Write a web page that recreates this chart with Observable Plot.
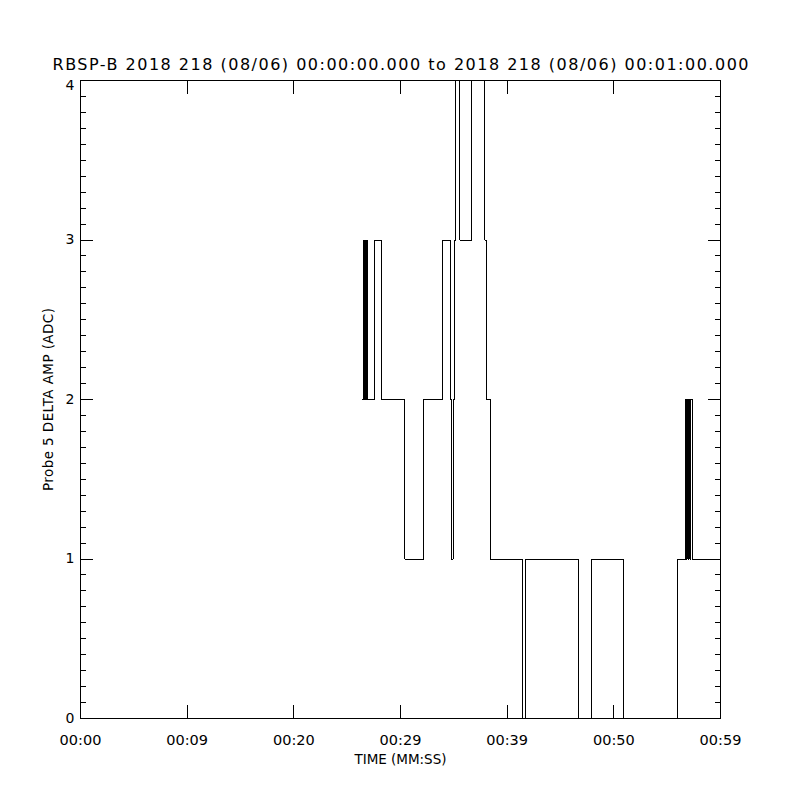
<!DOCTYPE html>
<html>
<head>
<meta charset="utf-8">
<script src="https://cdn.jsdelivr.net/npm/d3@7"></script>
<script src="https://cdn.jsdelivr.net/npm/@observablehq/plot@0.6"></script>
<style>
  html, body { margin: 0; padding: 0; background: #fff; }
  #chart { width: 800px; height: 800px; }
</style>
</head>
<body>
<div id="chart"></div>
<script>
// ---- Text ----
const titleText = "RBSP-B 2018 218 (08/06) 00:00:00.000 to 2018 218 (08/06) 00:01:00.000";
const xLabel = "TIME (MM:SS)";
const yLabel = "Probe 5 DELTA AMP (ADC)";

// ---- Ticks ----
const xTickValues = [0, 10, 20, 30, 40, 50, 60];
const xTickLabels = ["00:00", "00:09", "00:20", "00:29", "00:39", "00:50", "00:59"];
const yTickValues = [0, 1, 2, 3, 4];
const yTickLabels = ["0", "1", "2", "3", "4"];
const yMinorTicks = d3.range(0, 41).map(i => i / 10);

// ---- Series: change points (seconds) and the ADC value held from that time on ----
const times = [
  26.44, 26.52, 26.60, 26.68, 26.76, 26.84, 26.92, 27.03,
  27.60, 28.20, 30.40, 32.18, 33.96, 34.66, 34.75, 34.94, 35.03, 35.20,
  35.55, 36.68, 37.92, 38.08, 38.41, 41.41, 41.72, 46.73, 47.90, 50.86,
  55.97, 56.72, 56.80, 56.88, 56.96, 57.04, 57.12, 57.20, 57.33, 60.00
];
const values = [
  2, 3, 2, 3, 2, 3, 2, 2,
  3, 2, 1, 2, 3, 2, 1, 2, 3, 4,
  3, 4, 3, 2, 1, 0, 1, 0, 1, 0,
  1, 2, 1, 2, 1, 2, 1, 2, 1, 1
];
const data = times.map((t, i) => ({t, v: values[i]}));

const chart = Plot.plot({
  width: 800,
  height: 800,
  marginLeft: 80,
  marginRight: 80,
  marginTop: 80,
  marginBottom: 82,
  style: {fontFamily: "DejaVu Sans", fontSize: "14px", background: "#fff", color: "#000", overflow: "visible"},
  x: {domain: [0, 60]},
  y: {domain: [0, 4]},
  marks: [
    Plot.axisX({anchor: "bottom", ticks: xTickValues, tickSize: -13, tickPadding: 29, fontSize: 14.5,
      tickFormat: d => xTickLabels[xTickValues.indexOf(d)], label: null, shapeRendering: "crispEdges"}),
    Plot.axisX({anchor: "top", ticks: xTickValues, tickSize: -13, tickFormat: () => "", label: null, shapeRendering: "crispEdges"}),
    Plot.axisY({anchor: "left", ticks: yTickValues, tickSize: -13, tickPadding: 19,
      tickFormat: d => yTickLabels[yTickValues.indexOf(d)], label: null, shapeRendering: "crispEdges"}),
    Plot.axisY({anchor: "left", ticks: yMinorTicks, tickSize: -6, tickFormat: () => "", label: null, shapeRendering: "crispEdges"}),
    Plot.axisY({anchor: "right", ticks: yTickValues, tickSize: -13, tickFormat: () => "", label: null, shapeRendering: "crispEdges"}),
    Plot.axisY({anchor: "right", ticks: yMinorTicks, tickSize: -6, tickFormat: () => "", label: null, shapeRendering: "crispEdges"}),
    Plot.line(data, {x: "t", y: "v", curve: "step-after", stroke: "#000", strokeWidth: 1, shapeRendering: "crispEdges"}),
    Plot.frame({stroke: "#000", shapeRendering: "crispEdges"}),
    Plot.text([titleText], {frameAnchor: "top", dy: -16, fontSize: 16, textAnchor: "middle", lineAnchor: "middle"}),
    Plot.text([xLabel], {frameAnchor: "bottom", dy: 41, fontSize: 13.5, textAnchor: "middle", lineAnchor: "middle"}),
    Plot.text([yLabel], {frameAnchor: "left", dx: -32, rotate: -90, fontSize: 13.5, textAnchor: "middle", lineAnchor: "middle"})
  ]
});
document.getElementById("chart").appendChild(chart);

// stretch the wide plotting-font texts to the reference widths
const stretch = {[titleText]: 696, [xLabel]: 92, [yLabel]: 183};
d3.select(chart).selectAll("text").each(function () {
  const w = stretch[this.textContent];
  if (w) d3.select(this).attr("textLength", w).attr("lengthAdjust", "spacing");
});
// the top y label sits just below the frame corner in the reference
d3.select(chart).selectAll("g[aria-label='y-axis tick label'] text").each(function () {
  if (this.textContent === yTickLabels[yTickLabels.length - 1]) {
    const tr = this.getAttribute("transform") || "";
    this.setAttribute("transform", tr + " translate(0,5)");
  }
});
</script>
</body>
</html>
